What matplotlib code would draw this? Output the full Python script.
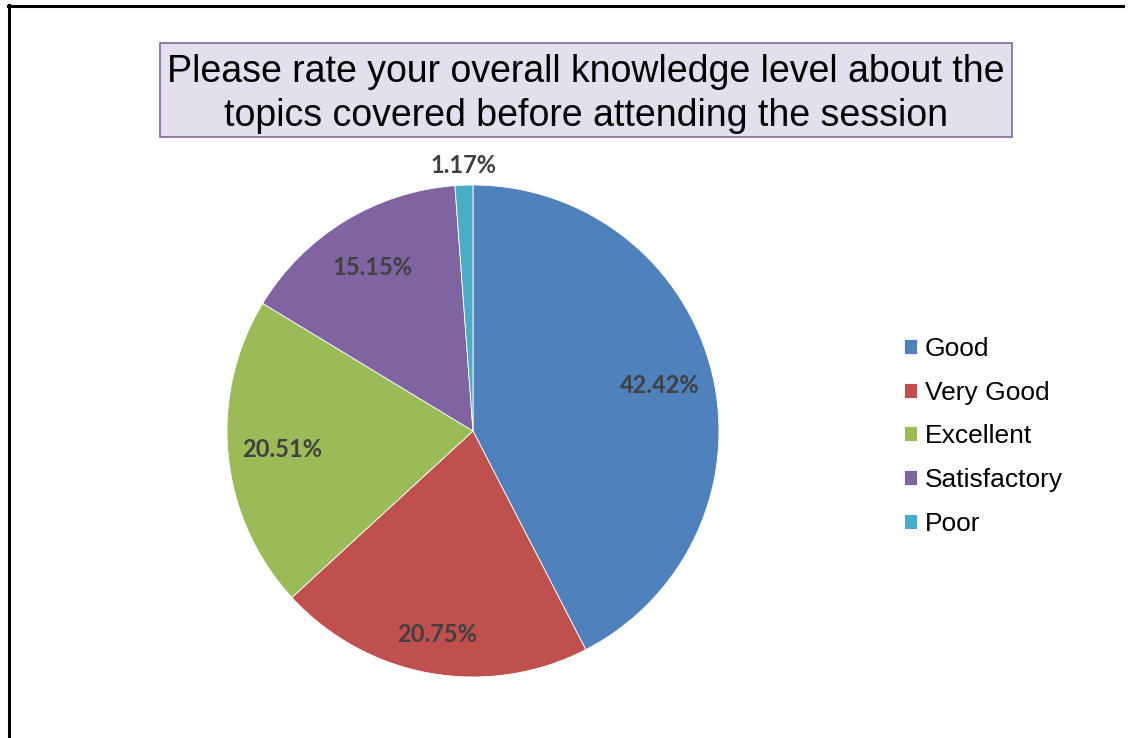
import matplotlib.pyplot as plt
from matplotlib.patches import Rectangle
from matplotlib.lines import Line2D
import numpy as np

categories = ['Good', 'Very Good', 'Excellent', 'Satisfactory', 'Poor']
values = [42.42, 20.75, 20.51, 15.15, 1.17]
colors = ['#4F81BD', '#C0504D', '#9BBB59', '#8064A2', '#4BACC6']
title = 'Please rate your overall knowledge level about the\ntopics covered before attending the session'

W, H = 1132, 738
fig = plt.figure(figsize=(W / 100, H / 100), dpi=100)

# pie centered at (473, 431) px, radius 246 px
cx, cy, r = 473, 431, 246
ax = fig.add_axes([(cx - r) / W, (H - cy - r) / H, 2 * r / W, 2 * r / H])
wedges, texts, autotexts = ax.pie(values, colors=colors, startangle=90, counterclock=False,
                                  autopct='%.2f%%', pctdistance=0.78,
                                  wedgeprops=dict(edgecolor='white', linewidth=0.6))
for t in autotexts:
    t.set_fontsize(17)
    t.set_fontweight('bold')
    t.set_color('#404040')
    t.set_family('Lato')

# label distances from centre, tweaked like Excel's best fit
label_dist = [0.78, 0.84, 0.78, 0.78, 1.08]
for w, t, d in zip(wedges, autotexts, label_dist):
    ang = np.deg2rad((w.theta1 + w.theta2) / 2)
    t.set_position((d * np.cos(ang), d * np.sin(ang)))
ax.set_xlim(-1, 1)
ax.set_ylim(-1, 1)

# title box
fig.add_artist(Rectangle((160 / W, 1 - 137 / H), 852 / W, 94 / H, transform=fig.transFigure,
                         facecolor='#E4DFEC', edgecolor='#7F6A9A', linewidth=1.2))
fig.text(586 / W, 1 - 94 / H, title, ha='center', va='center', fontsize=27,
         family='Liberation Sans', linespacing=1.3)

fig.legend(wedges, categories, loc='upper left', bbox_to_anchor=(880 / W, 1 - 313 / H),
           frameon=False, prop={'family': 'Liberation Sans', 'size': 19},
           handlelength=0.5, handleheight=0.5, handletextpad=0.3, labelspacing=0.75)

# outer frame (left and top only visible)
fig.add_artist(Line2D([8.5 / W, 8.5 / W], [0, 1 - 5 / H], color='black', linewidth=2.2,
                      transform=fig.transFigure))
fig.add_artist(Line2D([8 / W, 1123 / W], [1 - 6 / H, 1 - 6 / H], color='black', linewidth=2.2,
                      transform=fig.transFigure))

fig.savefig('out.png', dpi=100)
